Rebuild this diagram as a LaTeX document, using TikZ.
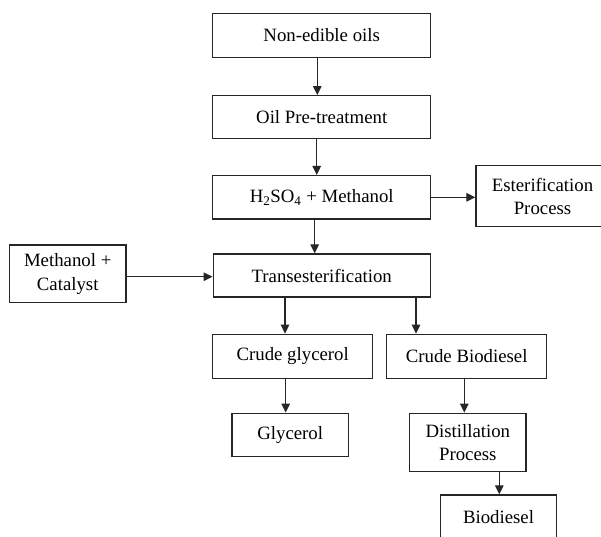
\documentclass[tikz,border=0pt]{standalone}
\usepackage{fontspec}
\setmainfont{Liberation Serif}
\usetikzlibrary{arrows.meta}
\begin{document}
\begin{tikzpicture}[x=1pt,y=-1pt,
  box/.style={draw=black!85, line width=1.4pt, inner sep=0pt, align=center,
    font=\fontsize{18.8}{23.4}\selectfont},
  arr/.style={draw=black!85, line width=1.3pt, -{Triangle[length=9pt,width=8.5pt]}}]
\useasboundingbox (0,0) rectangle (601,536);
\clip (0,0) rectangle (601,536);
\fill[white] (0,0) rectangle (601,536);
\node[box, minimum width=218pt, minimum height=44.4pt] (ne) at (321.7,35.5) {Non-edible oils};
\node[box, minimum width=218pt, minimum height=43pt] (pre) at (321.7,117.2) {Oil Pre-treatment};
\node[box, minimum width=218pt, minimum height=43.3pt] (h2) at (321.7,197.3) {H\textsubscript{2}SO\textsubscript{4} + Methanol};
\node[box, minimum width=133pt, minimum height=61pt] (est) at (542.5,196.2) {Esterification\\Process};
\node[box, minimum width=116.7pt, minimum height=57.7pt] (mc) at (67.7,273.8) {Methanol +\\Catalyst};
\node[box, minimum width=217pt, minimum height=43pt] (tr) at (321.7,275.5) {Transesterification};
\node[box, minimum width=160pt, minimum height=44pt] (cg) at (292.7,356.3) {Crude glycerol};
\node[box, minimum width=160pt, minimum height=44pt] (cb) at (466.7,356.3) {Crude Biodiesel};
\node[box, minimum width=116.3pt, minimum height=43.4pt] (gl) at (290.2,435) {Glycerol};
\node[box, minimum width=116.3pt, minimum height=58pt] (di) at (467.8,442.3) {Distillation\\Process};
\node[box, minimum width=116.4pt, minimum height=44pt] (bd) at (498.5,517) {Biodiesel};
\draw[arr] ([xshift=-4.4pt]ne.south) -- ([xshift=-4.4pt]ne.south |- pre.north);
\draw[arr] ([xshift=-5pt]pre.south) -- ([xshift=-5pt]pre.south |- h2.north);
\draw[arr] ([xshift=-7pt]h2.south) -- ([xshift=-7pt]h2.south |- tr.north);
\draw[arr] (h2.east) -- (h2.east -| est.west);
\coordinate (p1) at ([yshift=-2.9pt]mc.east);
\draw[arr] (p1) -- (p1 -| tr.west);
\draw[arr] ([xshift=-36.7pt]tr.south) -- ([xshift=-36.7pt]tr.south |- cg.north);
\draw[arr] ([xshift=94.3pt]tr.south) -- ([xshift=94.3pt]tr.south |- cb.north);
\draw[arr] ([xshift=-7pt]cg.south) -- ([xshift=-7pt]cg.south |- gl.north);
\draw[arr] ([xshift=-2.4pt]cb.south) -- ([xshift=-2.4pt]cb.south |- di.north);
\draw[arr] ([xshift=31.5pt]di.south) -- ([xshift=31.5pt]di.south |- bd.north);
\end{tikzpicture}
\end{document}
